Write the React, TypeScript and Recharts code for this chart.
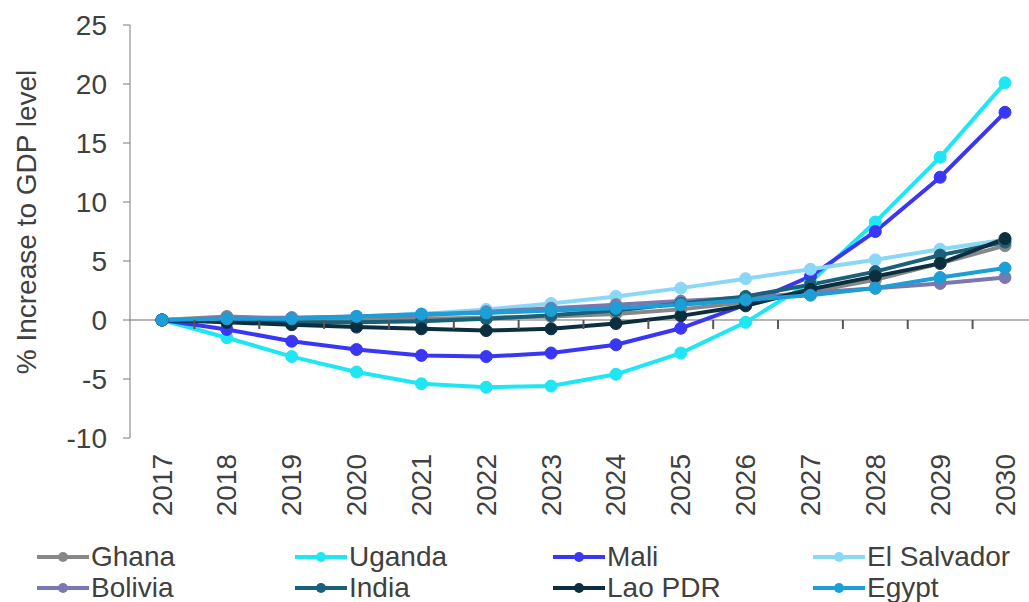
import { LineChart, Line, XAxis, YAxis, ReferenceLine } from "recharts"

const years = ["2017", "2018", "2019", "2020", "2021", "2022", "2023", "2024", "2025", "2026", "2027", "2028", "2029", "2030"]

const ghana = [0, 0.3, 0.1, 0.1, 0.1, 0.2, 0.3, 0.5, 0.9, 1.5, 2.4, 3.4, 4.8, 6.3]
const uganda = [0, -1.5, -3.1, -4.4, -5.4, -5.7, -5.6, -4.6, -2.8, -0.2, 3.2, 8.3, 13.8, 20.1]
const mali = [0, -0.8, -1.8, -2.5, -3.0, -3.1, -2.8, -2.1, -0.7, 1.3, 3.7, 7.5, 12.1, 17.6]
const elSalvador = [0, 0.1, 0.2, 0.3, 0.5, 0.9, 1.4, 2.0, 2.7, 3.5, 4.3, 5.1, 6.0, 6.8]
const bolivia = [0, 0.2, 0.2, 0.3, 0.4, 0.7, 1.0, 1.3, 1.6, 1.9, 2.3, 2.7, 3.1, 3.6]
const india = [0, -0.1, -0.2, -0.2, -0.1, 0.1, 0.4, 0.8, 1.4, 2.0, 3.0, 4.1, 5.5, 6.6]
const laoPdr = [0, -0.2, -0.4, -0.6, -0.75, -0.9, -0.75, -0.3, 0.35, 1.2, 2.6, 3.7, 4.8, 6.9]
const egypt = [0, 0.1, 0.1, 0.3, 0.5, 0.6, 0.8, 1.0, 1.3, 1.7, 2.1, 2.7, 3.6, 4.4]

const yTicks = [-10, -5, 0, 5, 10, 15, 20, 25]
const Y_MIN = -10
const Y_MAX = 25

const series = [
  { key: "Ghana", values: ghana, color: "#878787" },
  { key: "Uganda", values: uganda, color: "#1ee6f5" },
  { key: "Mali", values: mali, color: "#3a36f5" },
  { key: "El Salvador", values: elSalvador, color: "#8ad8f6" },
  { key: "Bolivia", values: bolivia, color: "#7a78b0" },
  { key: "India", values: india, color: "#1b6079" },
  { key: "Lao PDR", values: laoPdr, color: "#0c2f3f" },
  { key: "Egypt", values: egypt, color: "#1b9fd6" },
]

const data = years.map((year, i) => {
  const row: Record<string, string | number> = { year }
  series.forEach((s) => {
    row[s.key] = s.values[i]
  })
  return row
})

const FONT = "'Liberation Sans', Arial, sans-serif"
const TEXT = "#404040"

// layout
const W = 1029
const H = 530
const TOP = 25
const Y_AXIS_W = 130
const X_AXIS_H = 92
const PAD_LEFT = 32
const PAD_RIGHT = 24

const plotH = H - TOP - X_AXIS_H
const zeroY = TOP + (plotH * Y_MAX) / (Y_MAX - Y_MIN)
const step = (W - Y_AXIS_W - PAD_LEFT - PAD_RIGHT) / (years.length - 1)
const boundaryTicks = years.slice(1).map((_, k) => Y_AXIS_W + PAD_LEFT + step * (k + 0.5))

const YearTick = (props: any) => {
  const x = Number(props.x)
  const y = Number(props.y)
  return (
    <text
      x={x}
      y={y}
      transform={`rotate(-90, ${x}, ${y})`}
      textAnchor="end"
      dominantBaseline="central"
      fontSize={28}
      fontFamily={FONT}
      fill={TEXT}
    >
      {props.payload?.value}
    </text>
  )
}

const legendCols = [37, 295, 553, 813]
const legendRows = [557, 588]

export default function App() {
  return (
    <div style={{ position: "absolute", left: 0, top: 0, width: W, height: 602, background: "#fff" }}>
      <LineChart width={W} height={H} data={data} margin={{ top: TOP, right: 0, left: 0, bottom: 0 }}>
        <ReferenceLine y={0} stroke="#b5b5b5" strokeWidth={2} />
        <XAxis
          dataKey="year"
          axisLine={false}
          tickLine={false}
          tickSize={0}
          tickMargin={16}
          height={X_AXIS_H}
          interval={0}
          padding={{ left: PAD_LEFT, right: PAD_RIGHT }}
          tick={YearTick}
        />
        <YAxis
          domain={[Y_MIN, Y_MAX]}
          ticks={yTicks}
          width={Y_AXIS_W}
          stroke="#7a7a7a"
          tickSize={7}
          tickMargin={16}
          tick={{ fontSize: 28, fontFamily: FONT, fill: TEXT }}
        />
        {series.map((s) => (
          <Line
            key={s.key}
            dataKey={s.key}
            stroke={s.color}
            strokeWidth={4}
            dot={{ r: 6, fill: s.color, stroke: s.color, strokeWidth: 1 }}
            activeDot={false}
            isAnimationActive={false}
          />
        ))}
      </LineChart>
      {/* axis title and the category-boundary ticks that hang off the zero line */}
      <svg width={W} height={H} style={{ position: "absolute", left: 0, top: 0, pointerEvents: "none" }}>
        {boundaryTicks.map((tx, i) => (
          <line key={i} x1={tx} x2={tx} y1={zeroY} y2={zeroY + 9} stroke="#555" strokeWidth={2} />
        ))}
        <text
          x={26}
          y={222}
          transform="rotate(-90, 26, 222)"
          textAnchor="middle"
          dominantBaseline="central"
          fontSize={28}
          fontFamily={FONT}
          fill={TEXT}
        >
          % Increase to GDP level
        </text>
      </svg>
      {series.map((s, i) => (
        <div
          key={s.key}
          style={{
            position: "absolute",
            left: legendCols[i % 4],
            top: legendRows[Math.floor(i / 4)] - 15,
            height: 30,
            display: "flex",
            alignItems: "center",
            fontFamily: FONT,
            fontSize: 28,
            color: TEXT,
            whiteSpace: "nowrap",
          }}
        >
          <svg width={52} height={14} style={{ marginRight: 2 }}>
            <line x1={0} x2={52} y1={7} y2={7} stroke={s.color} strokeWidth={4} />
            <circle cx={26} cy={7} r={5} fill={s.color} />
          </svg>
          {s.key}
        </div>
      ))}
    </div>
  )
}
